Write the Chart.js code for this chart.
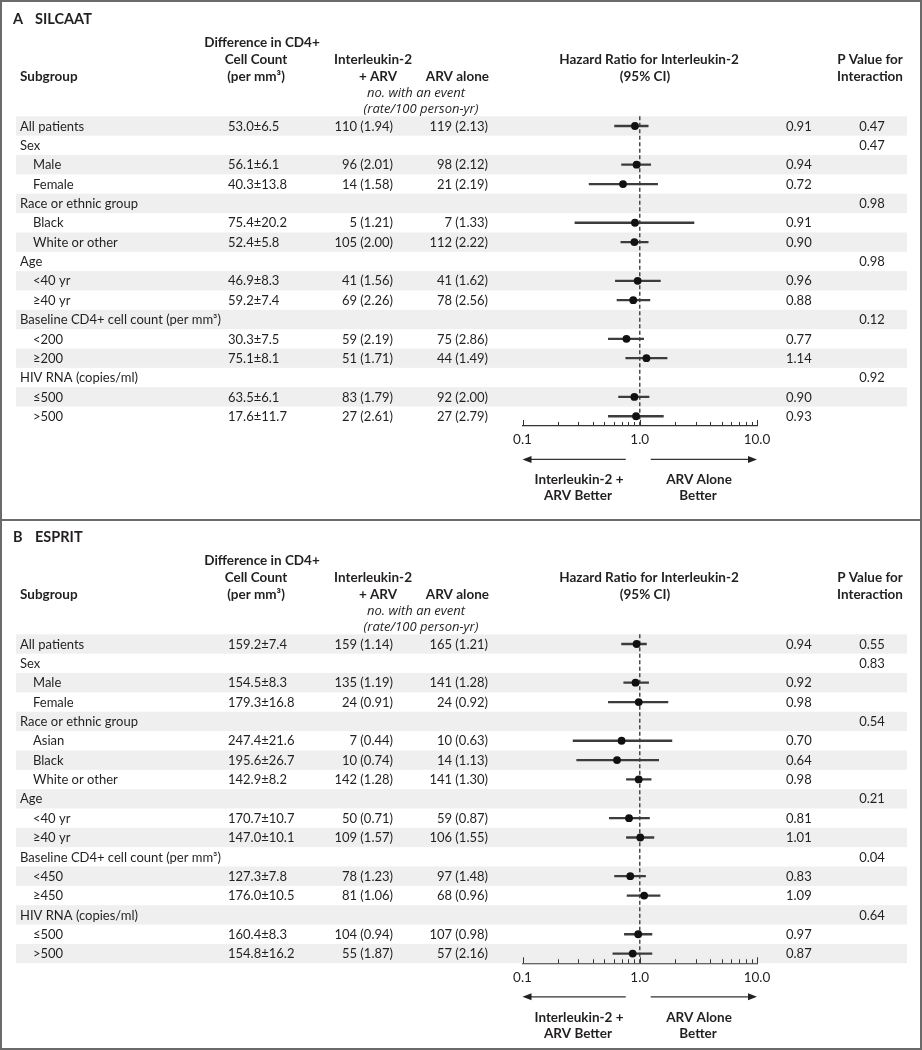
<!DOCTYPE html>
<html>
<head>
<meta charset="utf-8">
<script src="https://cdn.jsdelivr.net/npm/chart.js@4.4.1/dist/chart.umd.min.js"></script>
<style>
  body { margin: 0; background: #fff; }
  #wrap { position: relative; width: 922px; height: 1050px; }
  .box { position: absolute; left: 0; width: 922px; box-sizing: border-box; border: 2px solid #6a6a6a; }
  canvas { position: absolute; left: 0; }
</style>
</head>
<body>
<div id="wrap">
  <div class="box" style="top:0;height:521px"></div>
  <div class="box" style="top:519px;height:531px"></div>
  <canvas id="silcaat" width="922" height="520" style="top:0"></canvas>
  <canvas id="esprit" width="922" height="532" style="top:518px"></canvas>
</div>
<script>
// x axis of the hazard ratio (log scale)
const hrTicks = [0.1, 0.2, 0.3, 0.4, 0.5, 0.6, 0.7, 0.8, 0.9, 1, 2, 3, 4, 5, 6, 7, 8, 9, 10];
const hrMajor = [0.1, 1, 10];
const hrTickLabels = ['0.1', '1.0', '10.0'];

// A  SILCAAT
const silcaatRows = ['All patients', 'Sex', 'Male', 'Female', 'Race or ethnic group', 'Black', 'White or other',
  'Age', '<40 yr', '≥40 yr', 'Baseline CD4+ cell count (per mm³)', '<200', '≥200', 'HIV RNA (copies/ml)', '≤500', '>500'];
const silcaatCd4 = ['53.0±6.5', null, '56.1±6.1', '40.3±13.8', null, '75.4±20.2', '52.4±5.8',
  null, '46.9±8.3', '59.2±7.4', null, '30.3±7.5', '75.1±8.1', null, '63.5±6.1', '17.6±11.7'];
const silcaatIl2 = ['110 (1.94)', null, '96 (2.01)', '14 (1.58)', null, '5 (1.21)', '105 (2.00)',
  null, '41 (1.56)', '69 (2.26)', null, '59 (2.19)', '51 (1.71)', null, '83 (1.79)', '27 (2.61)'];
const silcaatArv = ['119 (2.13)', null, '98 (2.12)', '21 (2.19)', null, '7 (1.33)', '112 (2.22)',
  null, '41 (1.62)', '78 (2.56)', null, '75 (2.86)', '44 (1.49)', null, '92 (2.00)', '27 (2.79)'];
const silcaatHr = [0.91, null, 0.94, 0.72, null, 0.91, 0.90, null, 0.96, 0.88, null, 0.77, 1.14, null, 0.90, 0.93];
const silcaatLow = [0.61, null, 0.70, 0.37, null, 0.28, 0.69, null, 0.62, 0.64, null, 0.54, 0.76, null, 0.66, 0.54];
const silcaatHigh = [1.18, null, 1.24, 1.42, null, 2.90, 1.18, null, 1.50, 1.22, null, 1.08, 1.71, null, 1.20, 1.59];
const silcaatP = ['0.47', '0.47', null, null, '0.98', null, null, '0.98', null, null, '0.12', null, null, '0.92', null, null];

// B  ESPRIT
const espritRows = ['All patients', 'Sex', 'Male', 'Female', 'Race or ethnic group', 'Asian', 'Black', 'White or other',
  'Age', '<40 yr', '≥40 yr', 'Baseline CD4+ cell count (per mm³)', '<450', '≥450', 'HIV RNA (copies/ml)', '≤500', '>500'];
const espritCd4 = ['159.2±7.4', null, '154.5±8.3', '179.3±16.8', null, '247.4±21.6', '195.6±26.7', '142.9±8.2',
  null, '170.7±10.7', '147.0±10.1', null, '127.3±7.8', '176.0±10.5', null, '160.4±8.3', '154.8±16.2'];
const espritIl2 = ['159 (1.14)', null, '135 (1.19)', '24 (0.91)', null, '7 (0.44)', '10 (0.74)', '142 (1.28)',
  null, '50 (0.71)', '109 (1.57)', null, '78 (1.23)', '81 (1.06)', null, '104 (0.94)', '55 (1.87)'];
const espritArv = ['165 (1.21)', null, '141 (1.28)', '24 (0.92)', null, '10 (0.63)', '14 (1.13)', '141 (1.30)',
  null, '59 (0.87)', '106 (1.55)', null, '97 (1.48)', '68 (0.96)', null, '107 (0.98)', '57 (2.16)'];
const espritHr = [0.94, null, 0.92, 0.98, null, 0.70, 0.64, 0.98, null, 0.81, 1.01, null, 0.83, 1.09, null, 0.97, 0.87];
const espritLow = [0.70, null, 0.73, 0.54, null, 0.27, 0.29, 0.77, null, 0.55, 0.77, null, 0.61, 0.78, null, 0.74, 0.59];
const espritHigh = [1.14, null, 1.19, 1.74, null, 1.88, 1.45, 1.25, null, 1.21, 1.32, null, 1.12, 1.49, null, 1.27, 1.27];
const espritP = ['0.55', '0.83', null, null, '0.54', null, null, null, '0.21', null, null, '0.04', null, null, '0.64', null, null];

const FAMILY = 'Lato, "Open Sans", sans-serif';
const INK = '#231f20';
const ROW_H = 19.35;
const AXIS_H = 22;

function drawPanel(canvasId, panel) {
  const canvas = document.getElementById(canvasId);
  const H = canvas.height;
  const n = panel.rows.length;
  const top = 126 - ROW_H / 2;
  const bottom = H - top - n * ROW_H - AXIS_H;

  const forest = {
    id: 'forest',
    beforeDatasetsDraw(chart) {
      const { ctx, chartArea, scales: { x, y } } = chart;
      const rh = y.getPixelForValue(1) - y.getPixelForValue(0);
      ctx.save();
      // shaded rows
      panel.rows.forEach((r, i) => {
        if (i % 2) return;
        ctx.fillStyle = '#efefef';
        ctx.fillRect(16, y.getPixelForValue(i) - rh / 2, 891, rh);
      });
      // line of no effect
      const x1 = x.getPixelForValue(1);
      ctx.strokeStyle = '#4a4a4a';
      ctx.lineWidth = 1.5;
      ctx.setLineDash([4, 2.5]);
      ctx.beginPath();
      ctx.moveTo(x1, chartArea.top);
      ctx.lineTo(x1, chartArea.bottom);
      ctx.stroke();
      ctx.restore();
    },
    afterDraw(chart) {
      const { ctx, chartArea, scales: { x, y } } = chart;
      const txt = (s, px, py, align, font) => {
        ctx.font = font || `13px ${FAMILY}`;
        ctx.textAlign = align || 'left';
        ctx.fillText(s, px, py);
      };
      const bold = `bold 13.5px ${FAMILY}`;
      const ital = `italic 13px "Open Sans", ${FAMILY}`;
      ctx.save();
      ctx.fillStyle = INK;
      ctx.textBaseline = 'alphabetic';

      // title + column headers
      txt(panel.letter, 13, 24, 'left', `bold 14.5px ${FAMILY}`);
      txt(panel.name, 35, 24, 'left', `bold 14.5px ${FAMILY}`);
      txt('Difference in CD4+', 262, 47, 'center', bold);
      txt('Cell Count', 256, 64, 'center', bold);
      txt('Subgroup', 20, 81, 'left', bold);
      txt('(per mm³)', 256, 81, 'center', bold);
      txt('Interleukin-2', 373, 64, 'center', bold);
      txt('+ ARV', 378, 81, 'center', bold);
      txt('ARV alone', 489, 81, 'right', bold);
      txt('Hazard Ratio for Interleukin-2', 649, 64, 'center', bold);
      txt('(95% CI)', 645, 81, 'center', bold);
      txt('P Value for', 870, 64, 'center', bold);
      txt('Interaction', 870, 81, 'center', bold);
      txt('no. with an event', 416, 97, 'center', ital);
      txt('(rate/100 person-yr)', 421, 113, 'center', ital);

      // table rows
      ctx.textBaseline = 'middle';
      panel.rows.forEach((r, i) => {
        const cy = y.getPixelForValue(i) + 0.5;
        const sub = i > 0 && panel.hr[i] != null;
        txt(r, sub ? 33 : 20, cy);
        if (panel.cd4[i]) txt(panel.cd4[i], 228, cy);
        if (panel.il2[i]) txt(panel.il2[i], 393, cy, 'right');
        if (panel.arv[i]) txt(panel.arv[i], 488, cy, 'right');
        if (panel.hr[i] != null) txt(panel.hr[i].toFixed(2), 786, cy);
        if (panel.p[i]) txt(panel.p[i], 872, cy, 'center');
      });

      // tick marks point up from the axis
      const base = chartArea.bottom;
      ctx.strokeStyle = '#333';
      ctx.lineWidth = 1;
      x.ticks.forEach(tk => {
        const px = Math.round(x.getPixelForValue(tk.value)) + 0.5;
        const len = hrMajor.includes(tk.value) ? 6 : 4;
        ctx.beginPath();
        ctx.moveTo(px, base);
        ctx.lineTo(px, base - len);
        ctx.stroke();
      });

      // favour arrows
      const ay = base + 33.5;
      const xl = x.getPixelForValue(0.1), xr = x.getPixelForValue(10), x1 = x.getPixelForValue(1);
      ctx.lineWidth = 1.3;
      ctx.beginPath();
      ctx.moveTo(x1 - 14, ay); ctx.lineTo(xl + 6, ay);
      ctx.moveTo(x1 + 11, ay); ctx.lineTo(xr - 6, ay);
      ctx.stroke();
      ctx.fillStyle = '#222';
      ctx.beginPath();
      ctx.moveTo(xl, ay); ctx.lineTo(xl + 9, ay - 3.5); ctx.lineTo(xl + 9, ay + 3.5); ctx.closePath();
      ctx.moveTo(xr, ay); ctx.lineTo(xr - 9, ay - 3.5); ctx.lineTo(xr - 9, ay + 3.5); ctx.closePath();
      ctx.fill();
      ctx.fillStyle = INK;
      txt('Interleukin-2 +', 579, base + 54, 'center', bold);
      txt('ARV Better', 578, base + 70, 'center', bold);
      txt('ARV Alone', 699, base + 54, 'center', bold);
      txt('Better', 698, base + 70, 'center', bold);
      ctx.restore();
    }
  };

  return new Chart(canvas, {
    type: 'bar',
    data: {
      labels: panel.rows,
      datasets: [
        {
          type: 'scatter',
          data: panel.hr.map((v, i) => v == null ? null : { x: v, y: panel.rows[i] }).filter(d => d),
          backgroundColor: '#111',
          borderWidth: 0,
          pointRadius: 3.9,
        },
        {
          type: 'bar',
          data: panel.low.map((v, i) => v == null ? null : [v, panel.high[i]]),
          backgroundColor: '#3c3c3c',
          borderWidth: 0,
          barThickness: 1.6,
        },
      ],
    },
    options: {
      indexAxis: 'y',
      responsive: false,
      animation: false,
      events: [],
      layout: { padding: { left: 522.5, right: 165, top: top, bottom: bottom } },
      plugins: { legend: { display: false }, tooltip: { enabled: false } },
      scales: {
        x: {
          type: 'logarithmic',
          min: 0.1,
          max: 10,
          afterBuildTicks: s => { s.ticks = hrTicks.map(v => ({ value: v, major: hrMajor.includes(v) })); },
          afterFit: s => { s.height = AXIS_H; },
          grid: { display: false, drawTicks: false },
          border: { display: true, color: '#333', width: 1.2 },
          ticks: {
            autoSkip: false,
            maxRotation: 0,
            padding: 6,
            color: INK,
            font: { family: FAMILY, size: 13.5 },
            callback: v => { const k = hrMajor.indexOf(v); return k < 0 ? '' : hrTickLabels[k]; },
          },
        },
        y: { type: 'category', display: false, offset: true },
      },
    },
    plugins: [forest],
  });
}

drawPanel('silcaat', {
  letter: 'A', name: 'SILCAAT', rows: silcaatRows, cd4: silcaatCd4, il2: silcaatIl2, arv: silcaatArv,
  hr: silcaatHr, low: silcaatLow, high: silcaatHigh, p: silcaatP,
});
drawPanel('esprit', {
  letter: 'B', name: 'ESPRIT', rows: espritRows, cd4: espritCd4, il2: espritIl2, arv: espritArv,
  hr: espritHr, low: espritLow, high: espritHigh, p: espritP,
});
</script>
</body>
</html>
